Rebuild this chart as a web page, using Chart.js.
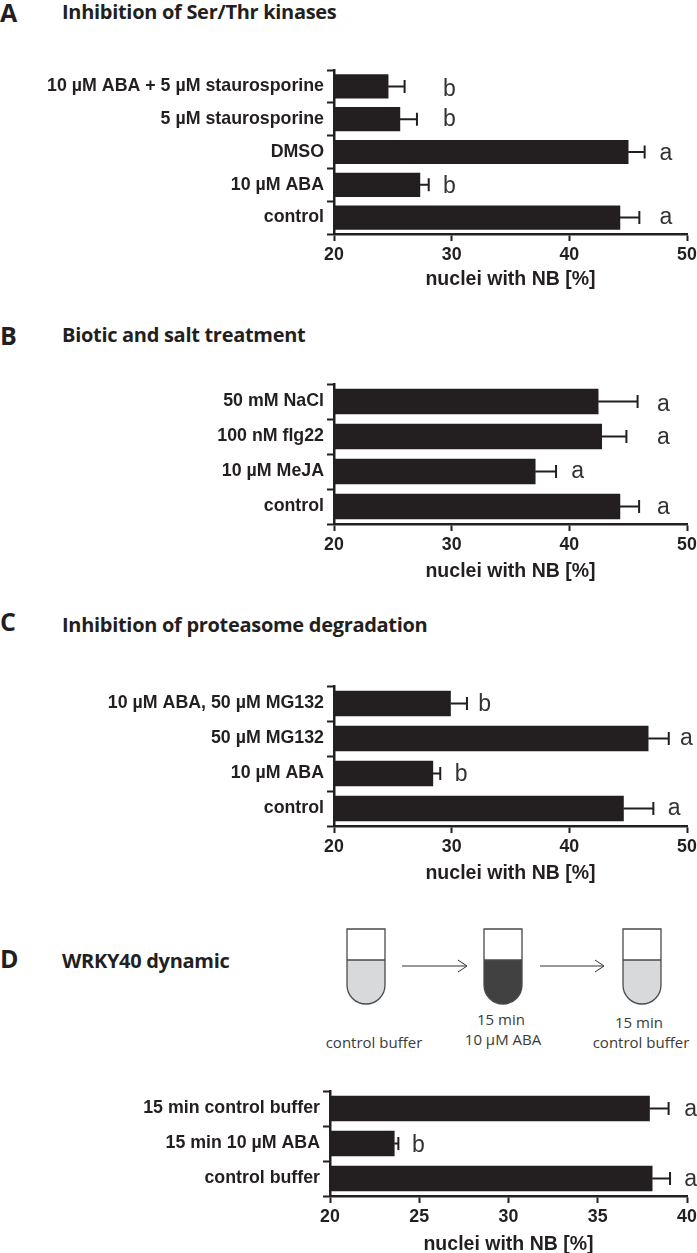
<!DOCTYPE html>
<html>
<head>
<meta charset="utf-8">
<script src="https://cdn.jsdelivr.net/npm/chart.js@4"></script>
<style>
  body { margin: 0; background: #fff; }
  #page { position: relative; width: 697px; height: 1253px; overflow: hidden; color: #231f20; }
  canvas { position: absolute; left: 0; }
  .panel { position: absolute; left: 0; font: bold 25px "Open Sans", sans-serif; line-height: 30px; }
  .title { position: absolute; left: 62px; font: bold 20px "Open Sans", sans-serif; line-height: 24px; white-space: nowrap; letter-spacing: -0.3px; }
  svg { position: absolute; left: 0; top: 0; }
  svg text { font: 15px "Open Sans", sans-serif; fill: #3a3a3a; text-anchor: middle; }
</style>
</head>
<body>
<div id="page">
  <div class="panel" style="top:-3px">A</div><div class="title" style="top:0px">Inhibition of Ser/Thr kinases</div>
  <div class="panel" style="top:320px">B</div><div class="title" style="top:323px">Biotic and salt treatment</div>
  <div class="panel" style="top:606px">C</div><div class="title" style="top:613px">Inhibition of proteasome degradation</div>
  <div class="panel" style="top:943px">D</div><div class="title" style="top:949px">WRKY40 dynamic</div>

  <svg width="697" height="1253">
    <defs>
      <clipPath id="tubeClip"><path d="M0 0 H38 V56 A19 19 0 0 1 0 56 Z"/></clipPath>
    </defs>
    <g transform="translate(347,929)">
      <rect y="31" width="38" height="50" fill="#d8d9da" clip-path="url(#tubeClip)"/>
      <path d="M0 0 H38 V56 A19 19 0 0 1 0 56 Z M0 31 H38" fill="none" stroke="#4a4a4a" stroke-width="1.3"/>
    </g>
    <g transform="translate(484,929)">
      <rect y="31" width="38" height="50" fill="#414142" clip-path="url(#tubeClip)"/>
      <path d="M0 0 H38 V56 A19 19 0 0 1 0 56 Z M0 31 H38" fill="none" stroke="#4a4a4a" stroke-width="1.3"/>
    </g>
    <g transform="translate(623,929)">
      <rect y="31" width="38" height="50" fill="#d8d9da" clip-path="url(#tubeClip)"/>
      <path d="M0 0 H38 V56 A19 19 0 0 1 0 56 Z M0 31 H38" fill="none" stroke="#4a4a4a" stroke-width="1.3"/>
    </g>
    <path d="M402 966 H466 M458 960 L467 966 L458 972" fill="none" stroke="#333" stroke-width="1"/>
    <path d="M540 966 H604 M595 960 L604 966 L595 972" fill="none" stroke="#333" stroke-width="1"/>
    <text x="374" y="1048">control buffer</text>
    <text x="501" y="1025">15 min</text>
    <text x="503" y="1045">10 µM ABA</text>
    <text x="639" y="1028">15 min</text>
    <text x="641" y="1048">control buffer</text>
  </svg>

  <canvas id="chartA"></canvas>
  <canvas id="chartB"></canvas>
  <canvas id="chartC"></canvas>
  <canvas id="chartD"></canvas>
</div>
<script>
const axisTitle = 'nuclei with NB [%]'

// panel A, top bar first
const labelsA = ['10 µM ABA + 5 µM staurosporine', '5 µM staurosporine', 'DMSO', '10 µM ABA', 'control']
const valuesA = [24.6, 25.6, 45.0, 27.3, 44.3]
const errorsA = [1.4, 1.45, 1.4, 0.75, 1.65]
const lettersA = ['b', 'b', 'a', 'b', 'a']
const ticksA = [20, 30, 40, 50]

// panel B
const labelsB = ['50 mM NaCl', '100 nM flg22', '10 µM MeJA', 'control']
const valuesB = [42.45, 42.75, 37.1, 44.3]
const errorsB = [3.35, 2.1, 1.77, 1.63]
const lettersB = ['a', 'a', 'a', 'a']
const ticksB = [20, 30, 40, 50]

// panel C
const labelsC = ['10 µM ABA, 50 µM MG132', '50 µM MG132', '10 µM ABA', 'control']
const valuesC = [29.9, 46.7, 28.4, 44.6]
const errorsC = [1.4, 1.75, 0.63, 2.54]
const lettersC = ['b', 'a', 'b', 'a']
const ticksC = [20, 30, 40, 50]

// panel D
const labelsD = ['15 min control buffer', '15 min 10 µM ABA', 'control buffer']
const valuesD = [37.9, 23.6, 38.05]
const errorsD = [1.07, 0.23, 1.0]
const lettersD = ['a', 'b', 'a']
const ticksD = [20, 25, 30, 35, 40]

const ink = '#231f20'
const labelFont = { family: '"Liberation Sans", Arial, sans-serif', weight: 'bold', size: 17.8 }

// whiskers (only the upper half shows) and the significance letters
const extras = {
  id: 'extras',
  afterDatasetsDraw(chart, args, opts) {
    const ctx = chart.ctx
    const x = chart.scales.x
    const y = chart.scales.y
    opts.values.forEach(function(v, i) {
      const cy = y.getPixelForValue(i)
      const end = x.getPixelForValue(v + opts.errors[i])
      ctx.strokeStyle = ink
      ctx.lineWidth = 2
      ctx.beginPath()
      ctx.moveTo(x.getPixelForValue(v), cy)
      ctx.lineTo(end, cy)
      ctx.moveTo(end, cy - 6.5)
      ctx.lineTo(end, cy + 6.5)
      ctx.stroke()
      ctx.fillStyle = '#333'
      ctx.font = '23px "Liberation Sans", Arial, sans-serif'
      ctx.textAlign = 'center'
      ctx.textBaseline = 'alphabetic'
      ctx.fillText(opts.letters[i], x.getPixelForValue(opts.letterAt[i]), cy + opts.letterDrop[i])
    })
  }
}

function makePanel(id, labels, values, errors, letters, ticks, place) {
  const canvas = document.getElementById(id)
  const padTop = 10
  const below = 60
  canvas.width = 697
  canvas.height = place.plotBottom - place.plotTop + padTop + below
  canvas.style.top = (place.plotTop - padTop) + 'px'
  new Chart(canvas, {
    type: 'bar',
    plugins: [extras],
    data: {
      labels: labels,
      datasets: [{ data: values, backgroundColor: ink, barThickness: place.barHeight }]
    },
    options: {
      indexAxis: 'y',
      responsive: false,
      animation: false,
      layout: { padding: { top: padTop, right: 697 - place.right, bottom: 0, left: 0 } },
      plugins: {
        legend: { display: false },
        tooltip: { enabled: false },
        extras: { values: values, errors: errors, letters: letters, letterAt: place.letterAt, letterDrop: place.letterDrop }
      },
      scales: {
        x: {
          min: ticks[0],
          max: ticks[ticks.length - 1],
          afterBuildTicks(scale) { scale.ticks = ticks.map(v => ({ value: v })) },
          afterFit(scale) { scale.height = below; scale.paddingLeft = 0; scale.paddingRight = 0 },
          grid: { drawOnChartArea: false, tickLength: 7, tickWidth: 2, tickColor: ink },
          border: { color: ink, width: 2.5 },
          ticks: { color: ink, font: labelFont, padding: 3, maxRotation: 0, autoSkip: false },
          title: { display: true, text: axisTitle, color: ink, font: { family: labelFont.family, weight: 'bold', size: 19.5 }, padding: { top: 0, bottom: place.titleLift } }
        },
        y: {
          afterFit(scale) { scale.width = place.left; scale.paddingTop = 0; scale.paddingBottom = 0 },
          grid: { drawOnChartArea: false, tickLength: 7, tickWidth: 2, tickColor: ink },
          border: { color: ink, width: 2.5 },
          ticks: { color: ink, font: labelFont, padding: 3, autoSkip: false }
        }
      }
    }
  })
}

makePanel('chartA', labelsA, valuesA, errorsA, lettersA, ticksA, {
  plotTop: 70, plotBottom: 234, left: 334, right: 687, barHeight: 23.5, titleLift: 3,
  letterAt: [29.8, 29.8, 48.2, 29.8, 48.2], letterDrop: [9.5, 7, 8, 8, 6]
})
makePanel('chartB', labelsB, valuesB, errorsB, lettersB, ticksB, {
  plotTop: 384, plotBottom: 524, left: 334, right: 687, barHeight: 25, titleLift: 1,
  letterAt: [48, 48, 40.7, 48], letterDrop: [9, 7.5, 6, 7.5]
})
makePanel('chartC', labelsC, valuesC, errorsC, lettersC, ticksC, {
  plotTop: 686, plotBottom: 826, left: 334, right: 687, barHeight: 25, titleLift: 1,
  letterAt: [32.8, 49.95, 30.8, 48.9], letterDrop: [7.5, 6, 7.5, 6]
})
makePanel('chartD', labelsD, valuesD, errorsD, lettersD, ticksD, {
  plotTop: 1091, plotBottom: 1196, left: 330, right: 687, barHeight: 25, titleLift: 0,
  letterAt: [40.2, 24.95, 40.2], letterDrop: [7, 8, 7]
})
</script>
</body>
</html>
